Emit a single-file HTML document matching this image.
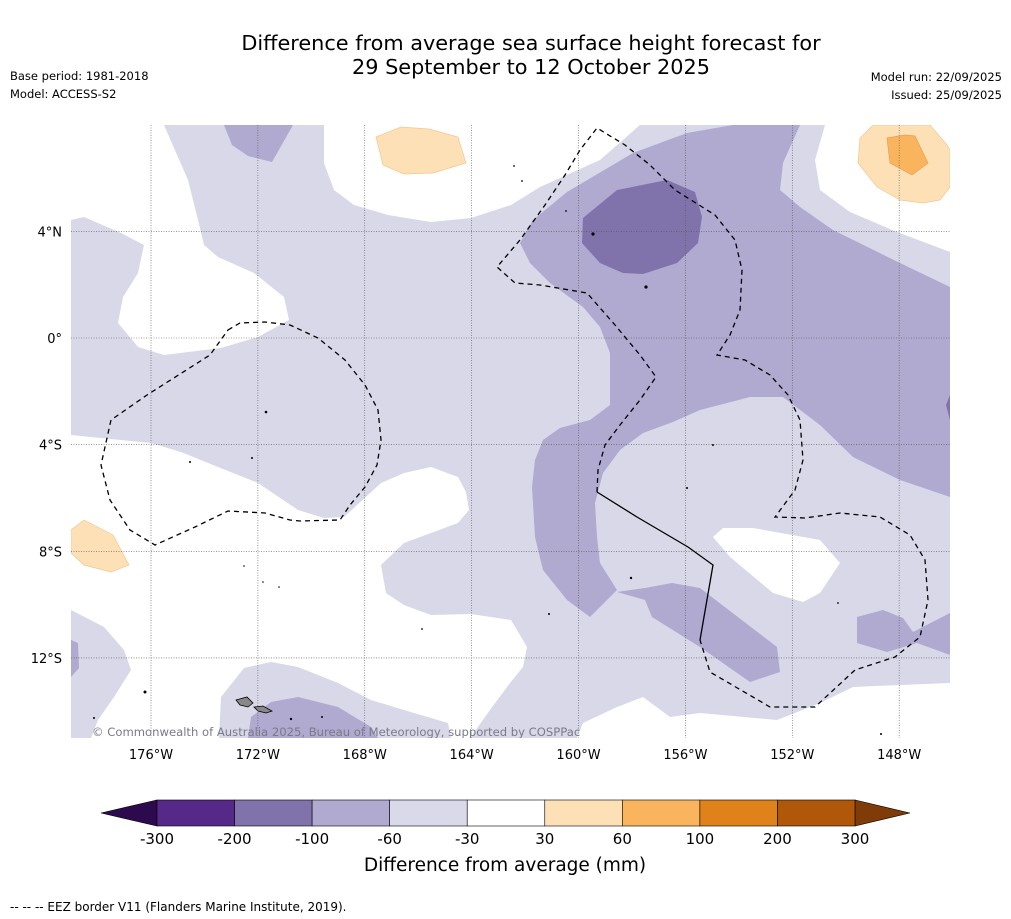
<!DOCTYPE html>
<html><head><meta charset="utf-8">
<style>
body{margin:0;background:#ffffff;width:1011px;height:919px;overflow:hidden;font-family:"DejaVu Sans","Liberation Sans",sans-serif;}
svg{position:absolute;left:0;top:0}
</style></head>
<body>
<svg width="1011" height="919" viewBox="0 0 1011 919">
<text x="531" y="50" font-size="20.8" text-anchor="middle" fill="#000">Difference from average sea surface height forecast for</text>
<text x="531" y="74" font-size="20.8" text-anchor="middle" fill="#000">29 September to 12 October 2025</text>
<text x="10" y="80" font-size="11.5">Base period: 1981-2018</text>
<text x="10" y="98" font-size="11.5">Model: ACCESS-S2</text>
<text x="1002" y="81" font-size="11.5" text-anchor="end">Model run: 22/09/2025</text>
<text x="1002" y="99" font-size="11.5" text-anchor="end">Issued: 25/09/2025</text>

<defs><clipPath id="mapclip"><rect x="71" y="125" width="879" height="613"/></clipPath></defs>
<g clip-path="url(#mapclip)">
<rect x="71" y="125" width="879" height="613" fill="#d8d8e9"/>
<polygon fill="#fff" points="71,125 164,125 188,180 198,220 204,245 218,257 254,273 284,297 289,320 258,337 221,348 164,355 138,347 118,323 123,297 138,273 144,245 121,233 84,217 71,220"/>
<polygon fill="#fff" points="324,125 640,125 600,160 540,187 511,205 471,218 431,222 388,215 354,205 334,190 324,163"/>
<polygon fill="#fff" points="825,125 950,125 950,252 897,232 850,212 820,190 815,160"/>
<polygon fill="#fff" points="71,435 151,443 181,452 218,467 258,483 298,510 324,518 344,517 381,483 404,473 431,467 458,477 466,492 469,510 458,523 404,543 381,565 386,593 404,605 431,615 471,614 511,620 517,630 527,647 523,667 510,683 490,710 470,738 451,738 448,723 404,710 371,700 338,683 298,667 271,662 244,668 221,697 219,738 91,738 98,720 114,697 131,670 124,650 104,627 71,610"/>
<polygon fill="#fff" points="713,537 723,528 753,528 820,540 840,563 820,593 803,602 773,593 730,557"/>
<polygon fill="#fff" points="577,738 583,723 617,707 643,697 670,717 700,713 777,720 820,703 853,687 900,685 950,683 950,738"/>
<polygon fill="#b0a9d0" points="520,243 533,220 567,192 633,153 687,133 733,125 800,125 783,163 780,190 800,207 833,230 900,263 950,287 950,497 900,480 853,457 820,425 783,397 750,397 700,410 673,422 643,433 620,450 603,473 595,503 597,537 600,563 617,590 590,617 567,600 543,570 535,537 532,487 535,460 543,440 560,428 590,420 610,405 610,353 600,327 583,307 550,283 530,263"/>
<polygon fill="#b0a9d0" points="224,125 293,125 272,162 248,156 232,145"/>
<polygon fill="#b0a9d0" points="617,592 645,588 672,583 700,588 777,647 780,672 750,682 700,647 652,617 645,600"/>
<polygon fill="#b0a9d0" points="857,617 883,610 903,618 913,632 950,613 950,655 917,643 887,652 857,643"/>
<polygon fill="#b0a9d0" points="71,640 78,643 79,668 71,677"/>
<polygon fill="#b0a9d0" points="248,738 251,717 271,702 298,697 338,707 371,727 378,738"/>
<polygon fill="#8073ab" points="583,218 617,190 667,180 695,192 702,217 698,243 677,263 643,274 623,273 600,263 582,243"/>
<polygon fill="#8073ab" points="950,395 946,405 950,420"/>
<polygon fill="#fde0b6" stroke="#f0c890" stroke-width="0.7" points="376,137 401,127 429,129 458,137 466,163 433,173 404,174 383,165"/>
<polygon fill="#fde0b6" stroke="#f0c890" stroke-width="0.7" points="858,163 860,138 873,125 930,125 947,145 950,150 950,187 940,200 923,203 900,200 877,187"/>
<polygon fill="#fbb45e" stroke="#e8a050" stroke-width="0.7" points="887,138 905,135 915,136 928,163 912,175 890,163"/>
<polygon fill="#fde0b6" stroke="#f0c890" stroke-width="0.7" points="71,530 84,520 113,535 129,565 111,572 84,565 71,553"/>

<g fill="#888" stroke="#000" stroke-width="0.8">
<polygon points="236,700 247,697 253,703 248,707 240,705"/>
<polygon points="254,707 263,706 272,711 266,713 258,711"/>
</g>
<g fill="#000">
<circle cx="593" cy="234" r="1.6"/><circle cx="646" cy="287" r="1.6"/><circle cx="266" cy="412" r="1.3"/><circle cx="252" cy="458" r="1"/><circle cx="190" cy="462" r="1"/><circle cx="145" cy="692" r="1.5"/><circle cx="291" cy="719" r="1.2"/><circle cx="322" cy="717" r="1"/><circle cx="549" cy="614" r="1"/><circle cx="631" cy="578" r="1.2"/><circle cx="713" cy="445" r="1"/><circle cx="687" cy="488" r="1"/><circle cx="514" cy="166" r="0.9"/><circle cx="522" cy="181" r="0.9"/><circle cx="566" cy="211" r="0.9"/><circle cx="838" cy="603" r="0.9"/><circle cx="422" cy="629" r="0.9"/><circle cx="94" cy="718" r="1"/><circle cx="881" cy="734" r="1"/><circle cx="263" cy="582" r="0.8"/><circle cx="279" cy="587" r="0.8"/><circle cx="244" cy="566" r="0.8"/>
</g>

<g stroke="#555" stroke-width="0.6" stroke-dasharray="1,1.5" id="grid"></g>

<g fill="none" stroke="#000" stroke-width="1.3">
<path stroke-dasharray="5,4" d="M228,330 L240,323 265,322 290,325 318,338 345,360 365,385 378,410 381,440 377,465 365,487 350,505 340,520 300,521 290,520 265,513 228,511 195,527 155,545 130,530 110,500 101,465 111,420 147,395 210,355 Z"/>
<path stroke-dasharray="5,4" d="M597,492 L598,470 605,445 620,425 640,400 656,377 640,355 615,325 587,293 540,285 515,283 497,267 520,240 545,205 565,175 580,150 597,128 625,145 650,165 675,190 715,215 735,240 742,270 740,310 730,335 717,355 745,360 770,375 788,395 800,420 803,460 795,490 775,517 805,518 840,513 880,517 910,535 925,560 928,600 920,637 895,657 855,670 815,707 770,707 710,672 700,640"/>
<path d="M597,492 L637,517 688,547 713,565 700,640"/>
</g>
<text x="92" y="736" font-size="11.6" fill="#7a7a8a">© Commonwealth of Australia 2025, Bureau of Meteorology, supported by COSPPac</text>
</g>
<g id="axislabels" font-size="13" fill="#000"></g>
<g id="colorbar"></g>
<text x="505" y="871" font-size="18.5" text-anchor="middle">Difference from average (mm)</text>
<text x="10" y="911" font-size="12">--  --  -- EEZ border V11 (Flanders Marine Institute, 2019).</text>
</svg>
<script>
const lonTicks=[176,172,168,164,160,156,152,148];
const latTicks=[4,0,-4,-8,-12];
const cbLabels=["-300","-200","-100","-60","-30","30","60","100","200","300"];
const cbColors=["#562888","#8073ab","#b0a9d0","#d9d9ea","#ffffff","#fde0b6","#fbb45e","#e0821a","#b05709"];
const cbExtendColors=["#2d0a4e","#7f3b08"];
const NS="http://www.w3.org/2000/svg";
function xLon(w){return 151+(176-w)*26.72;}
function yLat(l){return 338-l*26.66;}
function mk(tag,attrs,parent){const e=document.createElementNS(NS,tag);for(const k in attrs)e.setAttribute(k,attrs[k]);parent.appendChild(e);return e;}
const grid=document.getElementById('grid');
const ax=document.getElementById('axislabels');
lonTicks.forEach(w=>{
  const x=xLon(w);
  const l=mk('line',{x1:x,y1:125,x2:x,y2:738},grid);
  
  
  const t=mk('text',{x:x,y:759,'text-anchor':'middle'},ax);
  t.textContent=w+"°W";
  
  
});
latTicks.forEach(l=>{
  const y=yLat(l);
  const g=mk('line',{x1:71,y1:y,x2:950,y2:y},grid);
  
  
  const t=mk('text',{x:62,y:y+5,'text-anchor':'end'},ax);
  t.textContent=l===0?"0°":Math.abs(l)+"°"+(l>0?"N":"S");
  
  
});
const cb=document.getElementById('colorbar');
const x0=157,x1=855,y0=800,y1=826,n=cbColors.length,w=(x1-x0)/n;
const el=mk('polygon',{points:`${x0},${y0} ${x0},${y1} 101,${(y0+y1)/2}`,fill:cbExtendColors[0],stroke:'#000','stroke-width':0.6},cb);


const er=mk('polygon',{points:`${x1},${y0} ${x1},${y1} 910,${(y0+y1)/2}`,fill:cbExtendColors[1],stroke:'#000','stroke-width':0.6},cb);


cbColors.forEach((c,i)=>{
  const r=mk('rect',{x:x0+i*w,y:y0,width:w,height:y1-y0,fill:c,stroke:'#000','stroke-width':0.6},cb);
  
  
});
cbLabels.forEach((s,i)=>{
  const t=mk('text',{x:x0+i*w,y:844,'text-anchor':'middle','font-size':15},cb);
  t.textContent=s;
  
  
});
</script>
</body></html>
